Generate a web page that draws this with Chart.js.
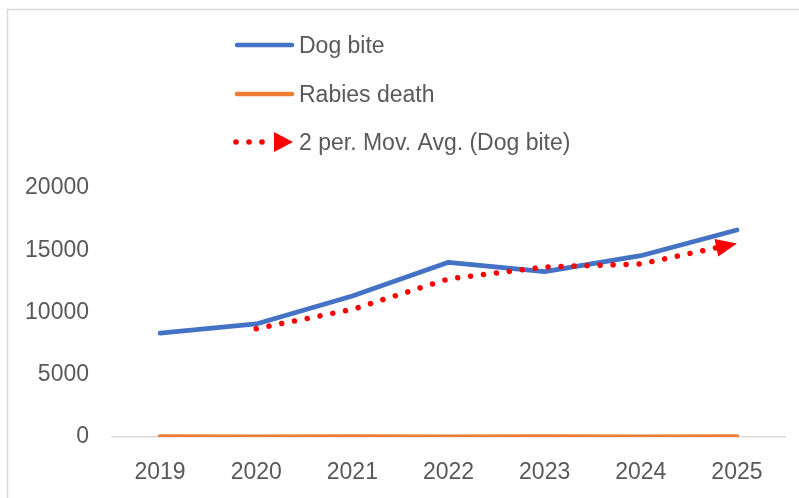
<!DOCTYPE html>
<html>
<head>
<meta charset="utf-8">
<script src="https://cdn.jsdelivr.net/npm/chart.js@4.4.1/dist/chart.umd.min.js"></script>
<style>
  html, body { margin: 0; padding: 0; background: #fff; }
  #wrap { width: 799px; height: 498px; position: relative; }
</style>
</head>
<body>
<div id="wrap"><canvas id="bites"></canvas></div>
<script>
const years = ['2019', '2020', '2021', '2022', '2023', '2024', '2025'];
const dogBite = [8350, 9080, 11330, 14030, 13280, 14560, 16630];
const rabiesDeath = [22, 18, 25, 15, 20, 17, 21];
const movAvg = [null, 8700, 10250, 12700, 13650, 13900, 15550];
const yTicks = [0, 5000, 10000, 15000, 20000];

const FONT = '"Liberation Sans", Arial, sans-serif';
const TEXT = '#595959';

// frame like the excel chart border (only top/left visible)
const framePlugin = {
    id: 'frame',
    beforeDraw(chart) {
        const ctx = chart.ctx;
        ctx.save();
        ctx.strokeStyle = '#d9d9d9';
        ctx.lineWidth = 1.5;
        ctx.beginPath();
        ctx.moveTo(7.5, 499);
        ctx.lineTo(7.5, 9.5);
        ctx.lineTo(800, 9.5);
        ctx.stroke();
        ctx.restore();
    }
};

function drawTriangle(ctx, x, y, angle, len, half) {
    ctx.save();
    ctx.translate(x, y);
    ctx.rotate(angle);
    ctx.beginPath();
    ctx.moveTo(0, 0);
    ctx.lineTo(-len, -half);
    ctx.lineTo(-len, half);
    ctx.closePath();
    ctx.fill();
    ctx.restore();
}

// arrow head at the end of the trend line
const arrowPlugin = {
    id: 'arrowHead',
    afterDatasetsDraw(chart) {
        const meta = chart.getDatasetMeta(2);
        const pts = meta.data;
        const a = pts[pts.length - 2], b = pts[pts.length - 1];
        const ang = Math.atan2(b.y - a.y, b.x - a.x);
        chart.ctx.fillStyle = '#ff0000';
        drawTriangle(chart.ctx, b.x, b.y, ang, 21, 9);
    }
};

// vertical stacked legend
const legendPlugin = {
    id: 'stackLegend',
    afterDraw(chart) {
        const ctx = chart.ctx;
        const rows = [45, 94, 142];
        ctx.save();
        chart.data.datasets.forEach((ds, i) => {
            const y = rows[i];
            ctx.strokeStyle = ds.borderColor;
            ctx.fillStyle = ds.borderColor;
            ctx.lineCap = 'round';
            if (i < 2) {
                ctx.lineWidth = 4.5;
                ctx.beginPath();
                ctx.moveTo(237, y);
                ctx.lineTo(292, y);
                ctx.stroke();
            } else {
                [236, 249, 262].forEach(x => {
                    ctx.beginPath();
                    ctx.arc(x, y, 2.8, 0, Math.PI * 2);
                    ctx.fill();
                });
                drawTriangle(ctx, 293, y, 0, 19, 10);
            }
            ctx.fillStyle = TEXT;
            ctx.font = '23px ' + FONT;
            ctx.textBaseline = 'middle';
            ctx.textAlign = 'left';
            ctx.fillText(ds.label, 299, y + 2);
        });
        ctx.restore();
    }
};

new Chart(document.getElementById('bites'), {
    type: 'line',
    data: {
        labels: years,
        datasets: [{
            label: 'Dog bite',
            data: dogBite,
            borderColor: '#4472c4',
            borderWidth: 4.8,
            borderCapStyle: 'round',
            borderJoinStyle: 'round',
            pointRadius: 0,
            order: 1
        }, {
            label: 'Rabies death',
            data: rabiesDeath,
            borderColor: '#ed7d31',
            borderWidth: 4.8,
            borderCapStyle: 'round',
            pointRadius: 0,
            order: 2
        }, {
            label: '2 per. Mov. Avg. (Dog bite)',
            data: movAvg,
            borderColor: '#ff0000',
            borderWidth: 5.5,
            borderDash: [0.01, 13],
            borderCapStyle: 'round',
            pointRadius: 0,
            order: 0
        }]
    },
    options: {
        responsive: true,
        maintainAspectRatio: false,
        animation: false,
        layout: { padding: { top: 188, right: 14, left: 0, bottom: 0 } },
        plugins: {
            legend: { display: false },
            tooltip: { enabled: false }
        },
        scales: {
            x: {
                offset: true,
                grid: { display: false, drawTicks: false },
                border: { display: true, color: '#d9d9d9', width: 1.5 },
                ticks: { color: TEXT, font: { family: FONT, size: 23 }, padding: 22, maxRotation: 0 },
                afterFit(scale) { scale.height = 61; }
            },
            y: {
                min: 0,
                max: 20000,
                grid: { display: false, drawTicks: false },
                border: { display: false },
                afterBuildTicks(scale) { scale.ticks = yTicks.map(v => ({ value: v })); },
                ticks: {
                    color: TEXT,
                    font: { family: FONT, size: 23 },
                    padding: 23,
                    callback: v => String(v)
                },
                afterFit(scale) { scale.width = 112; }
            }
        }
    },
    plugins: [framePlugin, arrowPlugin, legendPlugin]
});
</script>
</body>
</html>
